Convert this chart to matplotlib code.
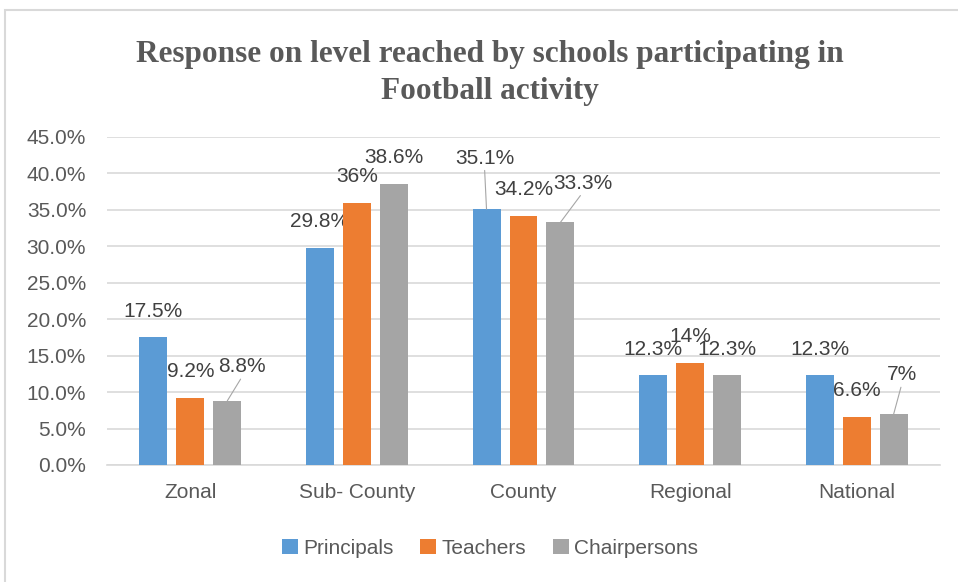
import numpy as np
import matplotlib.pyplot as plt
from matplotlib.patches import Rectangle

## Data
categories = ['Zonal', 'Sub- County', 'County', 'Regional', 'National']
series_names = ['Principals', 'Teachers', 'Chairpersons']
principals = [17.5, 29.8, 35.1, 12.3, 12.3]
teachers = [9.2, 36.0, 34.2, 14.0, 6.6]
chairpersons = [8.8, 38.6, 33.3, 12.3, 7.0]
yticks = np.arange(0, 46, 5)

colors = ['#5B9BD5', '#ED7D31', '#A5A5A5']
txt_col = '#595959'
grid_col = '#D9D9D9'
font = ['Liberation Sans', 'DejaVu Sans']
fs = 15

# label offsets (pixels) for the labels that Excel pulled away with a leader line
leader = {(0, 2): (-2, 51), (2, 0): (15, 34), (2, 2): (22, 39), (2, 4): (8, 39)}

fig = plt.figure(figsize=(9.58, 5.82), dpi=100)
ax = fig.add_axes([107/958, 1-465/582, 833/958, 328/582])

x = np.arange(len(categories))
step, width = 0.222, 0.168
for s, (vals, col) in enumerate(zip([principals, teachers, chairpersons], colors)):
    xs = x + (s-1)*step
    ax.bar(xs, vals, width, color=col, label=series_names[s], zorder=3)
    for c, (xb, v) in enumerate(zip(xs, vals)):
        lab = f'{v:g}%'
        if (s, c) in leader:
            dx, dy = leader[(s, c)]
            ax.annotate(lab, (xb, v), xytext=(dx, dy), textcoords='offset pixels',
                        ha='center', va='center', fontsize=fs, color='#404040', family=font,
                        arrowprops=dict(arrowstyle='-', color='#A6A6A6', lw=0.8,
                                        relpos=(0.5, 0), shrinkA=0, shrinkB=0))
        else:
            ax.annotate(lab, (xb, v), xytext=(0, 26), textcoords='offset pixels',
                        ha='center', va='center', fontsize=fs, color='#404040', family=font)

ax.set_xlim(-0.5, len(categories)-0.5)
ax.set_ylim(0, 45)
ax.set_yticks(yticks)
ax.set_yticklabels([f'{t:.1f}%' for t in yticks], fontsize=fs, color=txt_col, family=font)
ax.set_xticks(x)
ax.set_xticklabels(categories, fontsize=fs, color=txt_col, family=font)
ax.tick_params(axis='y', length=0, pad=15)
ax.tick_params(axis='x', length=0, pad=13)
ax.grid(axis='y', color=grid_col, lw=1.2, zorder=0)
for sp in ['top', 'right', 'left']:
    ax.spines[sp].set_visible(False)
ax.spines['bottom'].set_color(grid_col)
ax.spines['bottom'].set_linewidth(1.2)

fig.text(0.5115, 1-73/582, 'Response on level reached by schools participating in\nFootball activity',
         ha='center', va='center', fontsize=22.5, fontweight='bold', color=txt_col,
         family=['Liberation Serif', 'DejaVu Serif'], linespacing=1.4)

fig.legend(loc='center', bbox_to_anchor=(0.5115, 1-548/582), ncol=3, frameon=False,
           prop={'family': font, 'size': fs}, labelcolor=txt_col,
           handlelength=0.75, handleheight=0.75, handletextpad=0.25, columnspacing=1.3)

fig.patches.append(Rectangle((5/958, -0.1), 1.2, 1.1 - 10/582, transform=fig.transFigure,
                             fill=False, edgecolor=grid_col, lw=1.5))

plt.savefig('out.png', dpi=100)
